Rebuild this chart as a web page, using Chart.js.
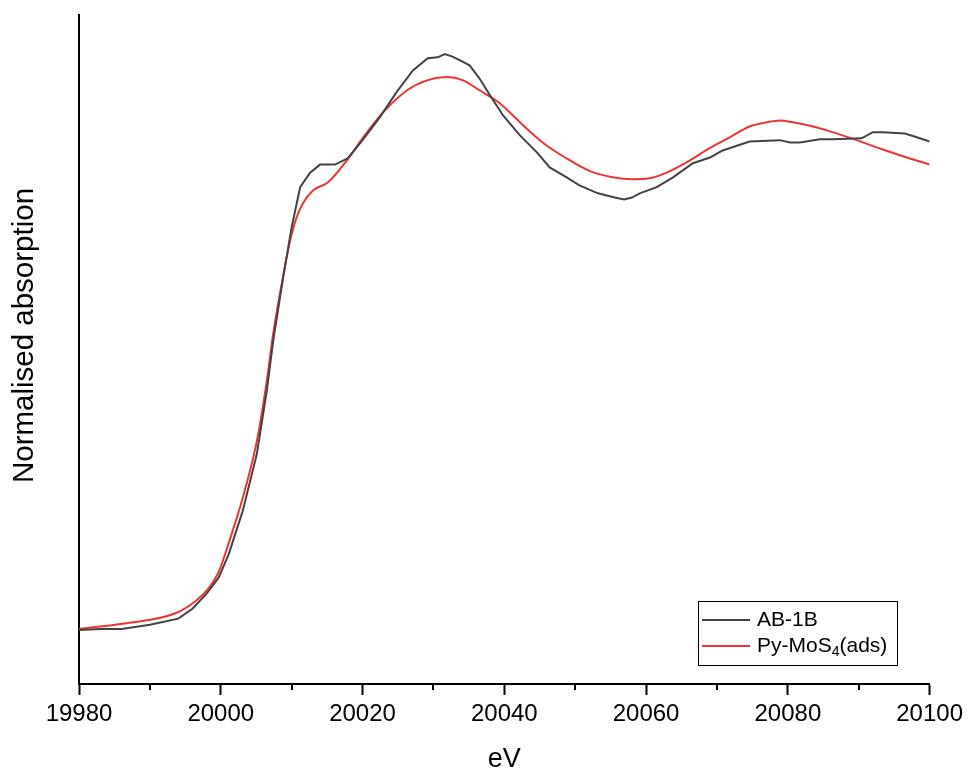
<!DOCTYPE html>
<html>
<head>
<meta charset="utf-8">
<script src="https://cdn.jsdelivr.net/npm/chart.js@4.4.1/dist/chart.umd.min.js"></script>
<style>
  html, body { margin: 0; padding: 0; background: #ffffff; }
  #wrap { position: relative; width: 968px; height: 769px; }
</style>
</head>
<body>
<div id="wrap"><canvas id="xanes" width="968" height="769"></canvas></div>
<script>
// Mo K-edge XANES spectra, normalised absorption vs photon energy (eV)
const energyAB = [19980.0, 19983.0, 19986.0, 19990.0, 19994.0, 19996.0, 19998.0, 19999.7, 20001.1, 20003.1,
  20005.1, 20006.5, 20007.4, 20008.8, 20010.0, 20011.2, 20012.6, 20014.0, 20016.1, 20017.9,
  20020.0, 20022.4, 20024.8, 20027.1, 20029.2, 20030.6, 20031.6, 20032.6, 20033.7, 20035.1,
  20036.5, 20038.0, 20039.8, 20042.2, 20044.6, 20046.4, 20048.8, 20050.6, 20053.2, 20055.6,
  20056.9, 20058.0, 20059.1, 20061.5, 20063.8, 20066.6, 20069.0, 20070.8, 20074.6, 20078.9,
  20080.3, 20081.7, 20084.5, 20086.3, 20090.4, 20092.0, 20093.4, 20096.5, 20098.2, 20100.0];
const absAB = [0.002, 0.004, 0.004, 0.013, 0.026, 0.047, 0.079, 0.113, 0.162, 0.255,
  0.377, 0.511, 0.617, 0.751, 0.858, 0.943, 0.974, 0.991, 0.991, 1.004,
  1.043, 1.091, 1.145, 1.191, 1.217, 1.219, 1.226, 1.221, 1.213, 1.202,
  1.174, 1.138, 1.096, 1.053, 1.017, 0.985, 0.964, 0.947, 0.930, 0.921,
  0.917, 0.921, 0.930, 0.943, 0.964, 0.994, 1.006, 1.021, 1.040, 1.043,
  1.038, 1.038, 1.045, 1.045, 1.047, 1.060, 1.060, 1.057, 1.049, 1.040];

const energyPy = [19980.0, 19986.1, 19993.7, 19996.5, 19998.1, 19999.7, 20001.3, 20003.1, 20005.1,
  20006.5, 20007.4, 20008.6, 20009.8, 20010.7, 20011.6, 20013.0, 20015.1, 20017.8, 20020.1,
  20022.9, 20026.3, 20029.1, 20031.9, 20034.2, 20036.5, 20039.4, 20042.2, 20045.4, 20048.8,
  20052.1, 20055.3, 20058.1, 20060.5, 20062.9, 20066.2, 20068.6, 20071.8, 20074.6, 20077.0,
  20078.9, 20080.7, 20084.1, 20086.3, 20089.7, 20093.4, 20096.8, 20100.0];
const absPy = [0.004, 0.015, 0.038, 0.064, 0.087, 0.125, 0.195, 0.283, 0.404,
  0.532, 0.632, 0.738, 0.830, 0.879, 0.909, 0.936, 0.953, 1.000, 1.049,
  1.102, 1.149, 1.170, 1.177, 1.170, 1.149, 1.121, 1.081, 1.038, 1.004,
  0.977, 0.964, 0.960, 0.962, 0.974, 1.000, 1.023, 1.049, 1.072, 1.081,
  1.085, 1.081, 1.070, 1.060, 1.043, 1.023, 1.006, 0.991];

const seriesNames = ['AB-1B', 'Py-MoS4(ads)'];
const xTicks = [19980, 20000, 20020, 20040, 20060, 20080, 20100];
const xMinorTicks = [19990, 20010, 20030, 20050, 20070, 20090];

const colorAB = '#434343';
const colorPy = '#ee3535';
const FONT = '"Liberation Sans", Arial, sans-serif';

const toPoints = (xs, ys) => xs.map((x, i) => ({ x: x, y: ys[i] }));

// minor ticks, axis titles and the framed legend (with subscript)
const decorations = {
  id: 'decorations',
  afterDraw(chart) {
    const ctx = chart.ctx;
    const xs = chart.scales.x;
    const area = chart.chartArea;
    ctx.save();
    // minor ticks
    ctx.strokeStyle = '#000';
    ctx.lineWidth = 2;
    xMinorTicks.forEach(v => {
      const px = Math.round(xs.getPixelForValue(v));
      ctx.beginPath();
      ctx.moveTo(px, area.bottom);
      ctx.lineTo(px, area.bottom + 6);
      ctx.stroke();
    });
    // axis titles
    ctx.fillStyle = '#000';
    ctx.font = '27px ' + FONT;
    ctx.textAlign = 'center';
    ctx.textBaseline = 'alphabetic';
    ctx.fillText('eV', (area.left + area.right) / 2, 767);
    ctx.save();
    ctx.translate(33, 335.5);
    ctx.rotate(-Math.PI / 2);
    ctx.font = '29.5px ' + FONT;
    ctx.fillText('Normalised absorption', 0, 0);
    ctx.restore();
    // legend
    const bx = 698, by = 601, bw = 199, bh = 64;
    ctx.lineWidth = 1;
    ctx.strokeStyle = '#000';
    ctx.strokeRect(bx + 0.5, by + 0.5, bw, bh);
    const rows = [
      { y: 620, color: colorAB },
      { y: 646, color: colorPy }
    ];
    rows.forEach(r => {
      ctx.strokeStyle = r.color;
      ctx.lineWidth = 2;
      ctx.beginPath();
      ctx.moveTo(702, r.y);
      ctx.lineTo(750, r.y);
      ctx.stroke();
    });
    ctx.fillStyle = '#000';
    ctx.textAlign = 'left';
    ctx.textBaseline = 'middle';
    ctx.font = '21px ' + FONT;
    ctx.fillText(seriesNames[0], 757, rows[0].y);
    // "Py-MoS" + subscript 4 + "(ads)"
    const pre = 'Py-MoS', sub = '4', post = '(ads)';
    let tx = 757;
    ctx.fillText(pre, tx, rows[1].y);
    tx += ctx.measureText(pre).width;
    ctx.font = '14px ' + FONT;
    ctx.fillText(sub, tx, rows[1].y + 6);
    tx += ctx.measureText(sub).width;
    ctx.font = '21px ' + FONT;
    ctx.fillText(post, tx, rows[1].y);
    ctx.restore();
  }
};

new Chart(document.getElementById('xanes'), {
  type: 'line',
  data: {
    datasets: [
      {
        label: seriesNames[0],
        data: toPoints(energyAB, absAB),
        borderColor: colorAB,
        borderWidth: 2,
        pointRadius: 0,
        tension: 0,
        fill: false
      },
      {
        label: seriesNames[1],
        data: toPoints(energyPy, absPy),
        borderColor: colorPy,
        borderWidth: 2,
        pointRadius: 0,
        cubicInterpolationMode: 'monotone',
        fill: false
      }
    ]
  },
  options: {
    responsive: false,
    animation: false,
    devicePixelRatio: 1,
    layout: { padding: { top: 15, right: 38, bottom: 0, left: 0 } },
    plugins: {
      legend: { display: false },
      tooltip: { enabled: false }
    },
    scales: {
      x: {
        type: 'linear',
        min: 19980,
        max: 20100,
        afterFit(scale) { scale.height = 85; },
        afterBuildTicks(scale) { scale.ticks = xTicks.map(v => ({ value: v })); },
        grid: {
          display: true,
          drawOnChartArea: false,
          drawTicks: true,
          tickLength: 11,
          tickColor: '#000',
          tickWidth: 2
        },
        border: { display: true, color: '#000', width: 2 },
        ticks: {
          color: '#000',
          padding: 5,
          maxRotation: 0,
          autoSkip: false,
          font: { family: FONT, size: 24 },
          callback: v => String(v)
        },
        title: { display: false }
      },
      y: {
        type: 'linear',
        min: -0.113,
        max: 1.309,
        afterFit(scale) { scale.width = 79; },
        grid: { display: false },
        border: { display: true, color: '#000', width: 2 },
        ticks: { display: false },
        title: { display: false }
      }
    }
  },
  plugins: [decorations]
});
</script>
</body>
</html>
